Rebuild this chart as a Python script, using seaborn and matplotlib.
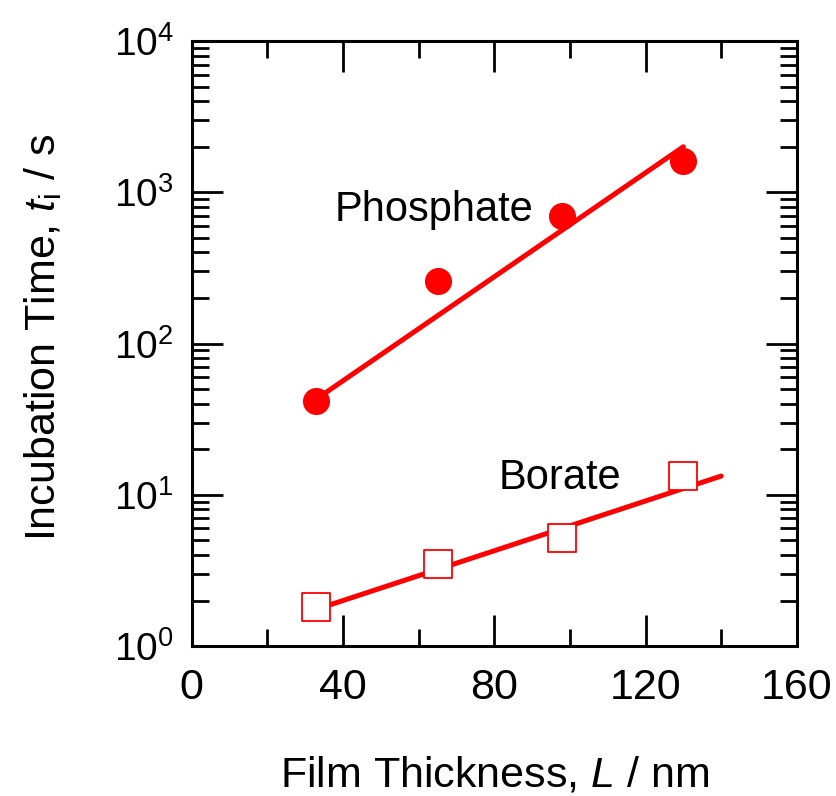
import numpy as np
import pandas as pd
import matplotlib
matplotlib.use("Agg")
import matplotlib.pyplot as plt
import seaborn as sns
from matplotlib.ticker import MultipleLocator, LogLocator, NullFormatter

# data
thickness = [33, 65, 98, 130]
phosphate_t = [42, 260, 700, 1610]
borate_t = [1.8, 3.5, 5.2, 13.3]

# fitted lines (end points)
phos_fit_x = [33, 130]
phos_fit_y = [43, 2000]
bor_fit_x = [33, 140]
bor_fit_y = [1.75, 13.3]

sns.set_style("ticks")
plt.rcParams['font.family'] = ['Liberation Sans', 'DejaVu Sans']
plt.rcParams['mathtext.fontset'] = 'custom'
plt.rcParams['mathtext.rm'] = 'Liberation Sans'
plt.rcParams['mathtext.it'] = 'Liberation Sans:italic'
plt.rcParams['text.color'] = 'black'
plt.rcParams['axes.labelcolor'] = 'black'

fig = plt.figure(figsize=(8.37, 7.96), dpi=100)
ax = fig.add_axes([0.229, 0.1884, 0.723, 0.760])

red = '#ff0000'
sns.lineplot(x=phos_fit_x, y=phos_fit_y, ax=ax, color=red, linewidth=3.6)
sns.lineplot(x=bor_fit_x, y=bor_fit_y, ax=ax, color=red, linewidth=3.6)

ax.set_yscale('log')
sns.scatterplot(x=thickness, y=phosphate_t, ax=ax, color=red, marker='o',
                s=19.5**2, edgecolor=red, linewidth=0, zorder=3)
sns.scatterplot(x=thickness, y=borate_t, ax=ax, marker='s', s=19.5**2,
                facecolor='white', edgecolor=red, linewidth=1.3, zorder=3)

ax.set_xlim(0, 160)
ax.set_ylim(1, 1e4)
ax.xaxis.set_major_locator(MultipleLocator(40))
ax.xaxis.set_minor_locator(MultipleLocator(20))
ax.yaxis.set_major_locator(LogLocator(base=10, numticks=10))
ax.yaxis.set_minor_locator(LogLocator(base=10, subs=np.arange(2, 10), numticks=10))
ax.yaxis.set_minor_formatter(NullFormatter())

ax.tick_params(which='both', direction='in', top=True, right=True, width=2,
               colors='black')
ax.tick_params(which='major', length=22)
ax.tick_params(which='minor', length=12)
ax.tick_params(axis='y', labelsize=28, pad=13)
ax.tick_params(axis='x', labelsize=31, pad=16)
for sp in ax.spines.values():
    sp.set_linewidth(2.2)
    sp.set_color('black')

ax.text(64, 760, 'Phosphate', fontsize=30, ha='center', va='center')
ax.text(97.3, 12.9, 'Borate', fontsize=30, ha='center', va='center')

ax.set_xlabel('Film Thickness, $\\mathit{L}$ / nm', fontsize=31, labelpad=34)
ax.set_ylabel('Incubation Time, $\\mathit{t}_{\\mathrm{i}}$ / s', fontsize=31)
ax.yaxis.set_label_coords(-0.21, 0.51)

fig.savefig('out.png', dpi=100)
